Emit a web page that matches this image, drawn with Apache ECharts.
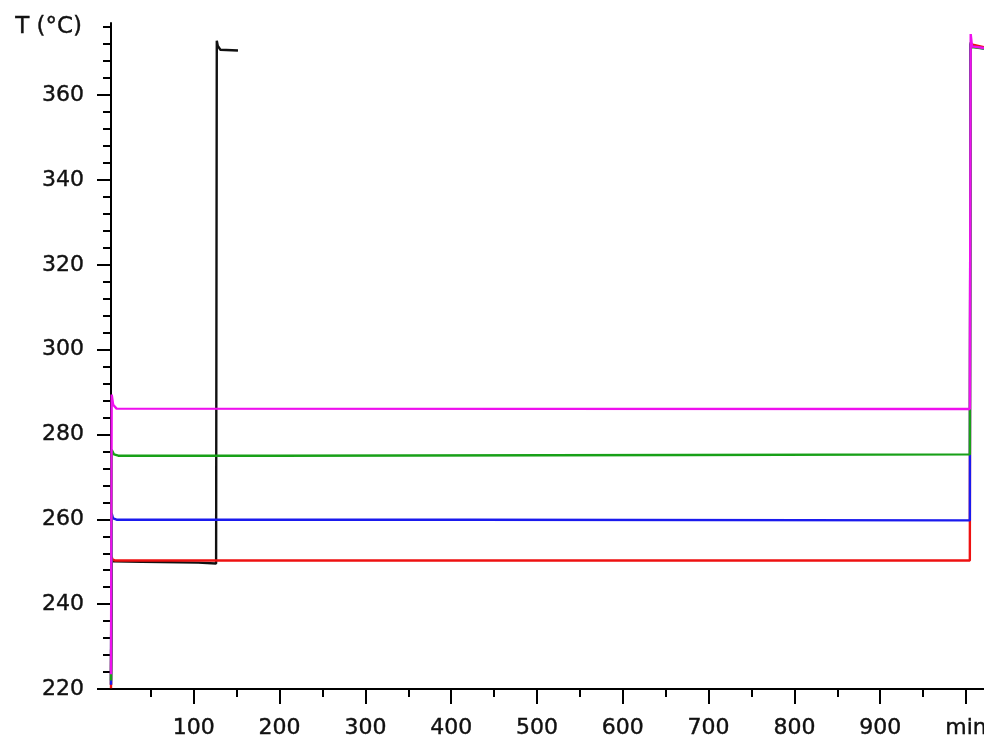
<!DOCTYPE html>
<html>
<head>
<meta charset="utf-8">
<script src="https://cdn.jsdelivr.net/npm/echarts@6/dist/echarts.min.js"></script>
<style>html,body{margin:0;padding:0;background:#fff;overflow:hidden}#c{width:984px;height:737px}</style>
</head>
<body>
<div id="c"></div>
<script>
// Tick values
var xMajorTicks = [100, 200, 300, 400, 500, 600, 700, 800, 900, 1000];
var xMinorTicks = [50, 150, 250, 350, 450, 550, 650, 750, 850, 950];
var yMajorTicks = [220, 240, 260, 280, 300, 320, 340, 360];
var yMinorTicks = [224, 228, 232, 236, 244, 248, 252, 256, 264, 268, 272, 276, 284, 288, 292, 296,
                   304, 308, 312, 316, 324, 328, 332, 336, 344, 348, 352, 356, 364, 368, 372, 376];
var xUnitLabel = 'min';
var yAxisTitle = 'T (°C)';

// Series data [time (min), temperature (°C)]
var blackSeries = [[3.5,221],[4.2,250.6],[6,250.1],[40,250.0],[41,249.8],[105,249.8],[106,249.6],[126,249.6],
                   [126.8,372.8],[128,371.6],[131,370.7],[151.5,370.5]];
var redSeries = [[3.5,220.2],[4.2,251.1],[5.5,250.5],[8,250.3],[1004.5,250.3],[1005.2,372],[1006,371.6],[1021,371.3]];
var blueSeries = [[3.5,221],[4.2,261.5],[6,260.2],[10,259.9],[420,259.9],[421,259.75],[1004.5,259.75],
                  [1005.2,372.2],[1006,371.5],[1021,371.0]];
var greenSeries = [[3.5,222],[4.3,276.4],[7,275.3],[12,275.0],[194,275.0],[195,275.15],[675,275.15],[676,275.3],
                   [1004.5,275.3],[1005.5,372.5],[1007,371.3],[1021,371.0]];
var magentaSeries = [[3.5,223.5],[4.3,289.4],[6,287],[10,286.1],[1004.5,286.0],[1005.5,374.4],[1007,371.5],[1021,371.1]];

var FONT = 'DejaVu Sans';
var chart = echarts.init(document.getElementById('c'), null, {renderer: 'canvas', width: 984, height: 737});
function line(name, data, color) {
  return {name: name, type: 'line', data: data, showSymbol: false, symbol: 'none',
    lineStyle: {color: color, width: 2.4}, itemStyle: {color: color}, animation: false, z: 2};
}
var labelStyle = {color: '#111', fontFamily: FONT, fontSize: 22, textBorderColor: '#111', textBorderWidth: 0.4};
chart.setOption({
  animation: false,
  backgroundColor: '#ffffff',
  grid: {left: 111, right: 0, top: 23, bottom: 48, containLabel: false, outerBoundsMode: 'none'},
  xAxis: [{
    type: 'value', min: 3.5, max: 1021, position: 'bottom',
    axisLine: {show: true, lineStyle: {color: '#000', width: 2}},
    axisTick: {show: true, length: 15, lineStyle: {color: '#000', width: 2}, customValues: xMajorTicks},
    axisLabel: Object.assign({show: true, customValues: xMajorTicks, margin: 28, hideOverlap: false,
      formatter: function (v) { return v === 1000 ? xUnitLabel : String(v); }}, labelStyle),
    splitLine: {show: false}
  }, {
    type: 'value', min: 3.5, max: 1021, position: 'bottom',
    axisLine: {show: false},
    axisTick: {show: true, length: 8, lineStyle: {color: '#000', width: 2}, customValues: xMinorTicks},
    axisLabel: {show: false},
    splitLine: {show: false}
  }],
  yAxis: [{
    type: 'value', min: 220, max: 377, position: 'left',
    axisLine: {show: true, lineStyle: {color: '#000', width: 2}},
    axisTick: {show: true, length: 14, lineStyle: {color: '#000', width: 2}, customValues: yMajorTicks},
    axisLabel: Object.assign({show: true, customValues: yMajorTicks, margin: 27}, labelStyle),
    splitLine: {show: false}
  }, {
    type: 'value', min: 220, max: 377, position: 'left',
    axisLine: {show: false},
    axisTick: {show: true, length: 8, lineStyle: {color: '#000', width: 2}, customValues: yMinorTicks},
    axisLabel: {show: false},
    splitLine: {show: false}
  }],
  graphic: [{
    type: 'text', x: 82, y: 27,
    style: {text: yAxisTitle, fill: '#111', font: '23px "DejaVu Sans"', align: 'right', verticalAlign: 'middle',
      stroke: '#111', lineWidth: 0.4}
  }],
  series: [
    line('black', blackSeries, '#111111'),
    line('red', redSeries, '#ee1111'),
    line('blue', blueSeries, '#1a1aee'),
    line('green', greenSeries, '#18a018'),
    line('magenta', magentaSeries, '#ee10ee')
  ]
});
</script>
</body>
</html>
